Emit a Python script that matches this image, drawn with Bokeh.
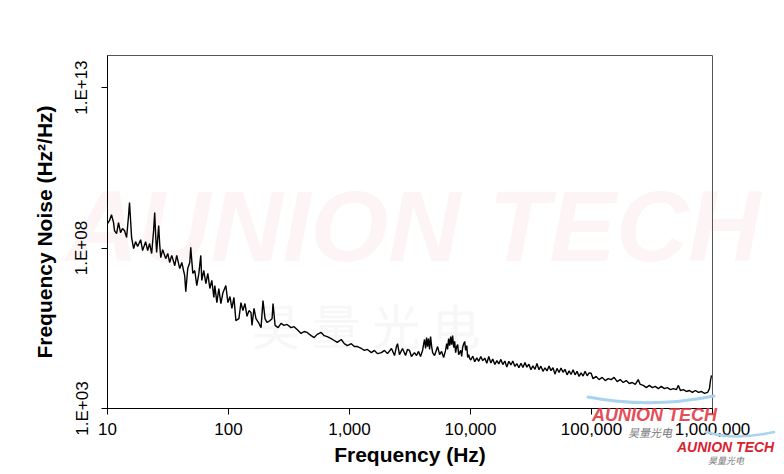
from bokeh.plotting import figure
from bokeh.models import FixedTicker, CustomJSTickFormatter
from bokeh.embed import file_html
from bokeh.resources import INLINE

# ---- data (decimal exponents: log10 of Hz and of Hz^2/Hz) ----
log10_freq_hz = [
    1.000, 1.017, 1.033, 1.050, 1.058, 1.075, 1.091, 1.108, 1.124, 1.141,
    1.158, 1.174, 1.182, 1.191, 1.199, 1.216, 1.232, 1.249, 1.274, 1.290,
    1.315, 1.332, 1.348, 1.365, 1.381, 1.390, 1.398, 1.406, 1.423, 1.431,
    1.440, 1.456, 1.481, 1.498, 1.514, 1.531, 1.556, 1.572, 1.597, 1.614,
    1.638, 1.647, 1.663, 1.680, 1.688, 1.705, 1.721, 1.738, 1.755, 1.771,
    1.779, 1.796, 1.813, 1.829, 1.846, 1.862, 1.879, 1.887, 1.904, 1.920,
    1.937, 1.954, 1.978, 1.995, 2.012, 2.028, 2.045, 2.061, 2.086, 2.103,
    2.119, 2.136, 2.153, 2.169, 2.186, 2.194, 2.211, 2.227, 2.252, 2.269,
    2.285, 2.302, 2.318, 2.343, 2.360, 2.368, 2.385, 2.410, 2.434, 2.459,
    2.484, 2.517, 2.542, 2.567, 2.600, 2.625, 2.650, 2.683, 2.708, 2.733,
    2.766, 2.791, 2.816, 2.849, 2.874, 2.899, 2.932, 2.957, 2.982, 3.015,
    3.040, 3.065, 3.098, 3.123, 3.148, 3.181, 3.206, 3.231, 3.264, 3.289,
    3.314, 3.347, 3.372, 3.388, 3.397, 3.413, 3.438, 3.463, 3.479, 3.496,
    3.512,
    3.537, 3.554, 3.571, 3.587, 3.604, 3.612, 3.620, 3.629, 3.637, 3.645,
    3.653, 3.662, 3.670, 3.678, 3.687, 3.703, 3.720, 3.728, 3.745, 3.761,
    3.778, 3.794, 3.803, 3.811, 3.819, 3.828, 3.836, 3.844, 3.852, 3.861,
    3.869, 3.877, 3.886, 3.894, 3.902, 3.919, 3.927, 3.935, 3.944, 3.952,
    3.960, 3.969, 3.977, 3.985, 3.993,
    4.002, 4.019, 4.035, 4.052, 4.068, 4.085, 4.101, 4.118, 4.135, 4.151,
    4.168, 4.184, 4.201, 4.218, 4.234, 4.251, 4.267, 4.284, 4.300, 4.317,
    4.334, 4.350, 4.367, 4.383, 4.400, 4.417, 4.433, 4.450, 4.466, 4.483,
    4.499, 4.516, 4.533, 4.549, 4.566, 4.582, 4.599, 4.616, 4.632, 4.649,
    4.665, 4.682, 4.698, 4.715, 4.732, 4.748, 4.765, 4.781, 4.798, 4.815,
    4.831, 4.848, 4.864, 4.881, 4.897, 4.914, 4.931, 4.947, 4.964, 4.980,
    4.997,
    5.013, 5.038, 5.063, 5.088, 5.113, 5.138, 5.163, 5.187, 5.212, 5.237,
    5.262, 5.287, 5.312, 5.337, 5.362, 5.386, 5.403, 5.428, 5.453, 5.478,
    5.503, 5.527, 5.552, 5.577, 5.602, 5.627, 5.652, 5.677, 5.702, 5.718,
    5.735, 5.760, 5.784, 5.809, 5.834, 5.859, 5.884, 5.909, 5.934, 5.959,
    5.975, 5.983, 5.992,
]
log10_noise = [
    8.76, 8.86, 9.04, 8.79, 8.54, 8.45, 8.79, 8.48, 8.61, 8.54,
    8.33, 9.01, 9.42, 8.86, 8.33, 7.98, 8.20, 8.05, 8.26, 7.92,
    8.20, 7.92, 8.14, 7.83, 8.54, 9.11, 8.39, 7.86, 8.70, 8.14,
    7.70, 7.95, 7.67, 7.83, 7.55, 7.77, 7.45, 7.77, 7.36, 7.55,
    7.14, 6.64, 7.36, 7.55, 8.02, 7.21, 7.30, 6.83, 7.21, 7.77,
    6.99, 7.30, 6.89, 7.21, 6.74, 6.99, 6.46, 6.83, 6.30, 6.74,
    6.27, 6.61, 6.83, 6.30, 6.49, 6.12, 6.46, 5.74, 5.80, 6.30,
    6.05, 6.27, 5.87, 6.05, 5.99, 5.59, 6.12, 5.80, 5.65, 5.52,
    6.36, 5.80, 5.68, 5.74, 5.80, 6.27, 5.59, 5.52, 5.65, 5.59,
    5.62, 5.52, 5.55, 5.46, 5.34, 5.40, 5.37, 5.27, 5.21, 5.31,
    5.37, 5.27, 5.24, 5.18, 5.12, 5.06, 5.15, 5.02, 4.96, 5.02,
    4.93, 4.93, 4.87, 4.81, 4.84, 4.74, 4.81, 4.71, 4.74, 4.81,
    4.71, 4.87, 4.65, 4.93, 5.02, 4.68, 4.87, 4.65, 4.84, 4.81,
    4.62,
    4.74, 4.65, 4.78, 4.62, 4.81, 4.99, 5.15, 4.87, 5.21, 4.93,
    5.18, 4.84, 5.24, 4.96, 4.74, 4.65, 4.84, 4.93, 4.68, 4.78,
    4.59, 4.81, 5.02, 4.84, 5.18, 4.96, 5.24, 4.99, 5.27, 4.90,
    5.09, 4.74, 4.93, 4.99, 4.68, 4.81, 4.62, 4.90, 5.02, 5.09,
    4.81, 4.96, 4.59, 4.68, 4.56,
    4.51, 4.63, 4.46, 4.58, 4.47, 4.62, 4.49, 4.57, 4.41, 4.62,
    4.42, 4.54, 4.37, 4.49, 4.39, 4.53, 4.37, 4.48, 4.29, 4.47,
    4.36, 4.48, 4.31, 4.40, 4.27, 4.41, 4.28, 4.43, 4.29, 4.38,
    4.21, 4.33, 4.22, 4.40, 4.21, 4.32, 4.16, 4.27, 4.17, 4.32,
    4.18, 4.27, 4.07, 4.25, 4.12, 4.26, 4.13, 4.22, 4.05, 4.17,
    4.06, 4.21, 4.05, 4.16, 4.00, 4.11, 4.01, 4.16, 4.02, 4.11,
    4.10,
    3.93, 4.00, 3.90, 3.97, 3.87, 3.93, 3.90, 3.97, 3.84, 3.90,
    3.81, 3.87, 3.78, 3.81, 3.75, 3.90, 3.75, 3.72, 3.65, 3.72,
    3.65, 3.69, 3.62, 3.69, 3.62, 3.65, 3.59, 3.62, 3.59, 3.72,
    3.56, 3.59, 3.53, 3.56, 3.50, 3.56, 3.50, 3.53, 3.47, 3.50,
    3.62, 3.87, 4.03,
]
x_ticks = [10, 100, 1000, 10000, 100000, 1000000]
y_ticks = [1e3, 1e8, 1e13]
x_title = "Frequency (Hz)"
y_title = "Frequency Noise (Hz\u00b2/Hz)"
brand = "AUNION TECH"
brand_cn = "昊量光电"

freq_hz = [10 ** e for e in log10_freq_hz]
noise = [10 ** e for e in log10_noise]

p = figure(
    x_axis_type="log", y_axis_type="log",
    x_range=(10, 1e6), y_range=(1e3, 1e14),
    frame_width=605, frame_height=353,
    min_border_left=107, min_border_right=64,
    min_border_top=55, min_border_bottom=58,
    output_backend="svg", toolbar_location=None,
)
# transparent fills so that the faint page watermark behind shows through
p.background_fill_alpha = 0
p.border_fill_alpha = 0
p.outline_line_color = "#555555"
p.outline_line_width = 1
p.grid.visible = False

p.line(freq_hz, noise, line_color="black", line_width=1.4)

for ax in (p.xaxis[0], p.yaxis[0]):
    ax.axis_line_color = "black"
    ax.axis_line_width = 1
    ax.major_tick_line_color = "black"
    ax.major_tick_out = 6
    ax.major_tick_in = 0
    ax.minor_tick_line_color = None
    ax.major_label_text_font = "Liberation Sans"
    ax.major_label_text_font_size = "17px"
    ax.major_label_text_color = "black"
    ax.axis_label_text_font = "Liberation Sans"
    ax.axis_label_text_font_style = "bold"
    ax.axis_label_text_font_size = "21px"
    ax.axis_label_text_color = "black"

p.xaxis.ticker = FixedTicker(ticks=x_ticks)
p.yaxis.ticker = FixedTicker(ticks=y_ticks)
p.xaxis.formatter = CustomJSTickFormatter(
    code="return Math.round(tick).toString().replace(/\\B(?=(\\d{3})+(?!\\d))/g, ',');")
p.yaxis.formatter = CustomJSTickFormatter(
    code="const e = Math.round(Math.log10(tick)); return '1.E+' + (e < 10 ? '0' + e : '' + e);")
p.yaxis.major_label_orientation = "vertical"
p.xaxis.major_label_standoff = 8
p.yaxis.major_label_standoff = 10
p.xaxis.axis_label = x_title
p.yaxis.axis_label = y_title
p.xaxis.axis_label_standoff = 5
p.yaxis.axis_label_standoff = 14

# faint watermark behind the chart and the company logo marks at the
# bottom right corner of the page (outside the plot frame)
watermark_html = (
    '<div style="position:absolute;left:0;top:0;width:0;height:0;pointer-events:none;z-index:-1;">'
    '<span style="position:absolute;left:66px;top:176px;white-space:nowrap;line-height:1;'
    'font-family:\'Liberation Sans\';font-weight:bold;font-style:italic;font-size:100px;'
    'color:#fdf5f5;">' + brand + '</span>'
    '<span style="position:absolute;left:252px;top:300px;white-space:nowrap;line-height:1;'
    'font-family:\'Noto Sans CJK SC\';font-size:48px;letter-spacing:12px;color:#f7f7f7;">'
    + brand_cn + '</span>'
    '</div>'
)
logo_html = (
    '<div style="position:absolute;left:0;top:0;width:0;height:0;pointer-events:none;z-index:5;">'
    '<svg width="784" height="474" style="position:absolute;left:0;top:0;overflow:visible;">'
    '<path d="M588,397 Q650,409 714,396" stroke="#a9d3ee" stroke-width="3" fill="none" stroke-linecap="round"/>'
    '<path d="M706,432 Q735,441 774,432" stroke="#a9d3ee" stroke-width="2.5" fill="none" stroke-linecap="round"/>'
    '</svg>'
    '<span style="position:absolute;left:592px;top:406px;white-space:nowrap;line-height:1;'
    'font-family:\'Liberation Sans\';font-weight:bold;font-style:italic;font-size:18px;'
    'color:#e0303c;opacity:0.85;">' + brand + '</span>'
    '<span style="position:absolute;left:628px;top:427px;white-space:nowrap;line-height:1;'
    'font-family:\'Noto Sans CJK SC\';font-style:italic;font-size:11px;color:#7a7a7a;">'
    + brand_cn + '</span>'
    '<span style="position:absolute;left:677px;top:440px;white-space:nowrap;line-height:1;'
    'font-family:\'Liberation Sans\';font-weight:bold;font-style:italic;font-size:14px;'
    'color:#d8232f;">' + brand + '</span>'
    '<span style="position:absolute;left:708px;top:456px;white-space:nowrap;line-height:1;'
    'font-family:\'Noto Sans CJK SC\';font-style:italic;font-size:9px;color:#7a7a7a;">'
    + brand_cn + '</span>'
    '</div>'
)

html = file_html(p, INLINE)
html = html.replace("</body>", watermark_html + logo_html + "\n</body>", 1)
open("out.html", "w").write(html)
